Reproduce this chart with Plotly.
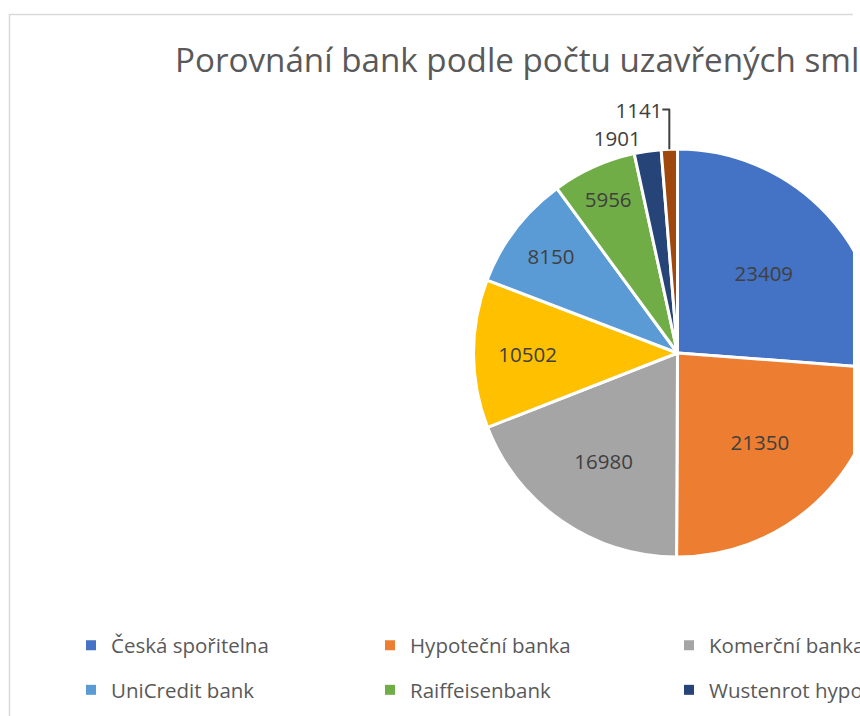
import plotly.graph_objects as go

# ---- data ----
banks = ["Česká spořitelna", "Hypoteční banka", "Komerční banka", "Moneta Money Bank",
         "UniCredit bank", "Raiffeisenbank", "Wustenrot hypoteční banka", "Sberbank"]
contracts = [23409, 21350, 16980, 10502, 8150, 5956, 1901, 1141]
title_text = "Porovnání bank podle počtu uzavřených smluv"

# ---- styles ----
colors = ["#4472C4", "#ED7D31", "#A5A5A5", "#FFC000", "#5B9BD5", "#70AD47", "#264478", "#9E480E"]
label_pos = ["inside"] * 6 + ["outside"] * 2
W, H = 1340, 716
FONT = "Open Sans"

fig = go.Figure()
fig.add_trace(go.Pie(
    labels=banks, values=contracts, sort=False, direction="clockwise", rotation=0,
    marker=dict(colors=colors, line=dict(color="white", width=3)),
    texttemplate="%{value:d}", textposition=label_pos,
    insidetextorientation="horizontal",
    textfont=dict(family=FONT, size=20.5, color="#404040"),
    outsidetextfont=dict(family=FONT, size=20.5, color="#404040"),
    showlegend=False, hoverinfo="label+value",
    domain=dict(x=[473.5 / W, 881.5 / W], y=[(H - 557) / H, (H - 149) / H]),
))

# legend entries (two rows, four columns)
for i, (b, c) in enumerate(zip(banks, colors)):
    fig.add_trace(go.Scatter(
        x=[None], y=[None], mode="markers", name=b,
        marker=dict(symbol="square", size=10, color=c),
        legend="legend" if i < 4 else "legend2", showlegend=True, hoverinfo="skip",
    ))

leg = dict(orientation="h", entrywidth=254, entrywidthmode="pixels",
           font=dict(family=FONT, size=20.5, color="#595959"),
           bgcolor="rgba(0,0,0,0)", xanchor="left", yanchor="middle", x=71 / W,
           itemclick=False, itemdoubleclick=False)

fig.update_layout(
    width=W, height=H,
    margin=dict(l=0, r=0, t=0, b=0),
    paper_bgcolor="white", plot_bgcolor="white",
    xaxis=dict(visible=False), yaxis=dict(visible=False),
    title=dict(text=title_text, x=175 / W, xanchor="left", xref="container",
               y=1 - 60 / H, yanchor="middle", yref="container",
               font=dict(family=FONT, size=33.2, color="#595959")),
    legend=dict(**leg, y=1 - 645.5 / H),
    legend2=dict(**leg, y=1 - 690 / H),
    shapes=[
        dict(type="rect", xref="paper", yref="paper", x0=9.5 / W, x1=1.2, y0=-0.2, y1=1 - 14.5 / H,
             line=dict(color="#D9D9D9", width=1.5), fillcolor="rgba(0,0,0,0)", layer="above"),
        dict(type="rect", xref="paper", yref="paper", x0=853 / W, x1=1.0, y0=0, y1=1,
             line=dict(width=0), fillcolor="white", layer="above"),
    ],
)

fig.write_html("out.html",
               post_script="document.documentElement.style.overflow='hidden';document.body.style.overflow='hidden';")
